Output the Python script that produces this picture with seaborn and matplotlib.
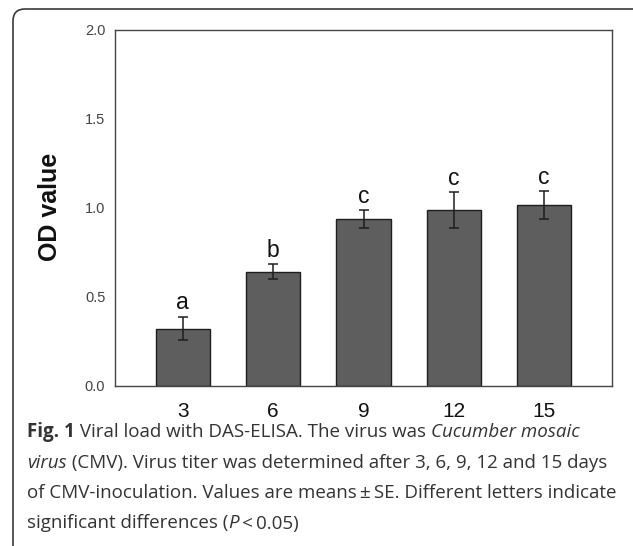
import numpy as np
import pandas as pd
import matplotlib
matplotlib.use("Agg")
import matplotlib.pyplot as plt
import seaborn as sns
from matplotlib.patches import FancyBboxPatch
from matplotlib.transforms import IdentityTransform

# data
days = ["3", "6", "9", "12", "15"]
od_mean = [0.32, 0.64, 0.935, 0.985, 1.015]
od_se = [0.067, 0.042, 0.052, 0.100, 0.078]
letters = ["a", "b", "c", "c", "c"]
y_ticks = [0.0, 0.5, 1.0, 1.5, 2.0]

caption_lines = [
    [("Fig. 1", "bold", "normal"),
     (" Viral load with DAS-ELISA. The virus was ", "normal", "normal"),
     ("Cucumber mosaic", "normal", "italic")],
    [("virus", "normal", "italic"),
     (" (CMV). Virus titer was determined after 3, 6, 9, 12 and 15 days", "normal", "normal")],
    [("of CMV-inoculation. Values are means\u2009\u00b1\u2009SE. Different letters indicate", "normal", "normal")],
    [("significant differences (", "normal", "normal"),
     ("P", "normal", "italic"),
     ("\u2009<\u20090.05)", "normal", "normal")],
]

W, H = 633, 546
BAR_COLOR = "#5e5e5e"
EDGE_COLOR = "#1e1e1e"


def draw_chart(fig):
    ax = fig.add_axes([115 / W, 1 - 385.5 / H, 497 / W, 356 / H])
    df = pd.DataFrame({"day": days, "od": od_mean})
    sns.barplot(data=df, x="day", y="od", color=BAR_COLOR, width=0.6,
                edgecolor=EDGE_COLOR, linewidth=1.0, saturation=1,
                errorbar=None, ax=ax)
    ax.errorbar(np.arange(len(days)), od_mean, yerr=od_se, fmt="none",
                ecolor=EDGE_COLOR, elinewidth=1.1, capsize=3.8, capthick=1.1)

    for i, (m, s, lab) in enumerate(zip(od_mean, od_se, letters)):
        ax.text(i, m + s + 0.012, lab, ha="center", va="bottom",
                fontsize=16.5, family="Liberation Sans", color="#111111")

    ax.set_xlim(-0.75, len(days) - 0.25)
    ax.set_ylim(0, 2.0)
    ax.set_yticks(y_ticks)
    ax.set_yticklabels([f"{v:.1f}" for v in y_ticks])
    ax.set_xlabel("")
    ax.set_ylabel("")
    for sp in ax.spines.values():
        sp.set_color("#444444")
        sp.set_linewidth(1.0)
        sp.set_visible(True)
    ax.tick_params(axis="y", direction="out", length=4, width=0.9,
                   color="#444444", labelsize=10.5, labelcolor="#444444", pad=3)
    ax.tick_params(axis="x", direction="out", length=5, width=0.9,
                   color="#444444", labelsize=15, labelcolor="#111111", pad=7)
    for t in ax.get_xticklabels() + ax.get_yticklabels():
        t.set_family("Liberation Sans")

    fig.text(50 / W, 1 - 207 / H, "OD value", rotation=90, ha="center",
             va="center", fontsize=18, fontweight="bold",
             family="Liberation Sans", color="#111111")
    return ax


def draw_caption(fig, ax, x0=27, y_first=432, spacing=30.5, size=13.5):
    # each piece is chained to the right end of the previous one
    for k, pieces in enumerate(caption_lines):
        y = 1 - (y_first + k * spacing) / H
        prev = None
        for txt, weight, style in pieces:
            kw = dict(fontsize=size, family="Open Sans", fontweight=weight,
                      fontstyle=style, color="#333333", va="center", ha="left")
            if prev is None:
                prev = fig.text(x0 / W, y, txt, **kw)
            else:
                prev = ax.annotate(txt, xy=(1, 0.5), xycoords=prev,
                                   annotation_clip=False, **kw)


def main():
    sns.set_style("white")
    fig = plt.figure(figsize=(W / 100, H / 100), dpi=100)
    fig.patch.set_facecolor("white")

    ax = draw_chart(fig)
    draw_caption(fig, ax)

    border = FancyBboxPatch((13, -20), 640, H - 9 + 20,
                            boxstyle="round,pad=0,rounding_size=12",
                            transform=IdentityTransform(), fill=False,
                            edgecolor="#3a3a3a", linewidth=1.2)
    border.set_figure(fig)
    fig.patches.append(border)

    fig.savefig("out.png", dpi=100)


if __name__ == "__main__":
    main()
